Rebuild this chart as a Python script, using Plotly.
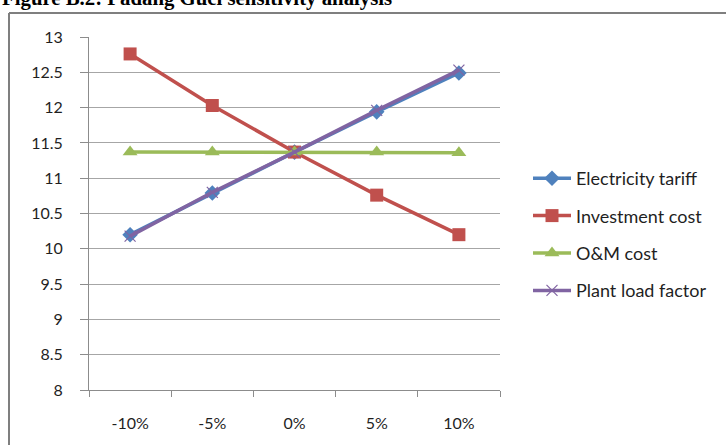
import plotly.graph_objects as go

# Sensitivity of the result to a +/- change in each input
changes = ["-10%", "-5%", "0%", "5%", "10%"]
electricity_tariff = [10.20, 10.79, 11.37, 11.94, 12.49]
investment_cost = [12.76, 12.03, 11.37, 10.76, 10.20]
om_cost = [11.37, 11.37, 11.37, 11.37, 11.36]
plant_load_factor = [10.18, 10.80, 11.37, 11.96, 12.53]

W, H = 726, 445
L, R, T, B = 89, 226, 37, 55
plot_w = W - L - R
plot_h = H - T - B

font_family = "Lato, 'Open Sans', sans-serif"
text_color = "#1f1f1f"

series = [
    ("Electricity tariff", electricity_tariff, "#4F81BD",
     dict(symbol="diamond", size=12, color="#4F81BD")),
    ("Investment cost", investment_cost, "#C0504D",
     dict(symbol="square", size=13, color="#C0504D")),
    ("O&M cost", om_cost, "#9BBB59",
     dict(symbol="triangle-up", size=13, color="#9BBB59")),
    ("Plant load factor", plant_load_factor, "#8064A2",
     dict(symbol="x-thin", size=11, color="#8064A2",
          line=dict(width=1.2, color="#8064A2"))),
]

fig = go.Figure()
for i, (name, vals, color, marker) in enumerate(series):
    fig.add_trace(go.Scatter(
        x=changes, y=vals, name=name, mode="lines+markers",
        line=dict(color=color, width=3.5),
        marker=marker, legendgroup=f"g{i}",
    ))

# Outer chart frame: left and top edges
px = lambda v: (v - L) / plot_w
py = lambda v: 1 - (v - T) / plot_h
frame = dict(color="#7f7f7f", width=2)
fig.add_shape(type="line", xref="paper", yref="paper",
              x0=px(9), x1=px(9), y0=py(H + 5), y1=py(13), line=frame)
fig.add_shape(type="line", xref="paper", yref="paper",
              x0=px(9), x1=px(W + 5), y0=py(13), y1=py(13), line=frame)

fig.add_annotation(
    text="<b>Figure B.2: Padang Guci sensitivity analysis</b>",
    xref="paper", yref="paper", x=px(0), y=py(12),
    xanchor="left", yanchor="bottom", showarrow=False,
    font=dict(family="'Liberation Serif', 'Times New Roman', serif",
              size=20.8, color="#000000"),
)

fig.update_layout(
    width=W, height=H,
    margin=dict(l=L, r=R, t=T, b=B),
    paper_bgcolor="white", plot_bgcolor="white",
    font=dict(family=font_family, size=16, color=text_color),
    showlegend=True,
    legend=dict(
        x=px(528), y=py(160), xanchor="left", yanchor="top",
        font=dict(family=font_family, size=18, color=text_color),
        tracegroupgap=11, itemwidth=38, bgcolor="rgba(0,0,0,0)",
    ),
)

fig.update_xaxes(
    type="category", tickson="boundaries", range=[-0.5, 4.5],
    showline=True, linecolor="#8c8c8c", linewidth=1,
    ticks="outside", ticklen=6, tickcolor="#8c8c8c",
    showgrid=False, tickfont=dict(size=16, color=text_color),
    ticklabelstandoff=19,
)
fig.update_yaxes(
    range=[8, 13], dtick=0.5, tick0=8,
    showline=True, linecolor="#8c8c8c", linewidth=1,
    ticks="outside", ticklen=8, tickcolor="#8c8c8c",
    showgrid=True, gridcolor="#a6a6a6", gridwidth=1,
    zeroline=False, tickfont=dict(size=16, color=text_color),
    ticklabelstandoff=14,
)

fig.write_html("out.html")
